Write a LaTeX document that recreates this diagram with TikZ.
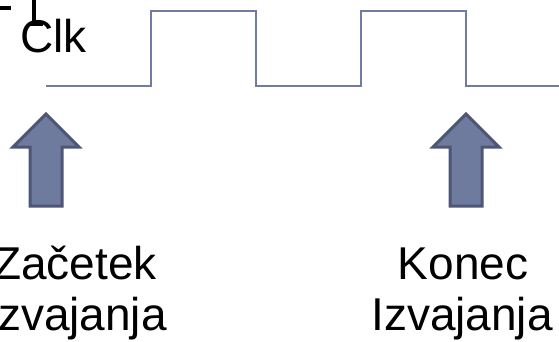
\documentclass[tikz,border=0pt]{standalone}
\usepackage{fontspec}
\setmainfont{Liberation Sans}
\definecolor{wave}{RGB}{112,124,162}
\definecolor{arrowfill}{RGB}{110,122,158}
\definecolor{arrowedge}{RGB}{78,86,118}
\tikzset{
  signal/.style={draw=wave, line width=2.4pt, line join=miter},
  uparrow/.style={fill=arrowfill, draw=arrowedge, line width=3pt, line join=miter},
  inkstroke/.style={draw=black, line width=3.5pt},
  caption/.style={font=\fontsize{46}{46}\selectfont, inner sep=0pt, anchor=base},
}
\begin{document}
\begin{tikzpicture}[x=1pt, y=-1pt]
  \useasboundingbox (0,0) rectangle (559,342);
  % partial clock-input symbol at the top left
  \draw[inkstroke] (0,8) -- (11,8);
  \draw[inkstroke] (34,0) -- (34,24);
  \draw[inkstroke] (29,24) -- (43,24);
  \node[caption, anchor=base west] (clk) at (20,53) {Clk};
  % clock waveform
  \draw[signal] (46,86) -- (151,86) -- (151,11) -- (256,11) -- (256,86)
    -- (361,86) -- (361,11) -- (466,11) -- (466,86) -- (559,86);
  % block arrows marking start and end of execution
  \draw[uparrow] (46,114) -- (79,147) -- (62,147) -- (62,206) -- (30,206)
    -- (30,147) -- (13,147) -- cycle;
  \draw[uparrow] (466,114) -- (499,147) -- (482,147) -- (482,206) -- (450,206)
    -- (450,147) -- (433,147) -- cycle;
  % captions
  \node[caption] (start1) at (75,279) {Začetek};
  \node[caption] (start2) at (76,330) {Izvajanja};
  \node[caption] (end1) at (463,279) {Konec};
  \node[caption] (end2) at (462,330) {Izvajanja};
\end{tikzpicture}
\end{document}
